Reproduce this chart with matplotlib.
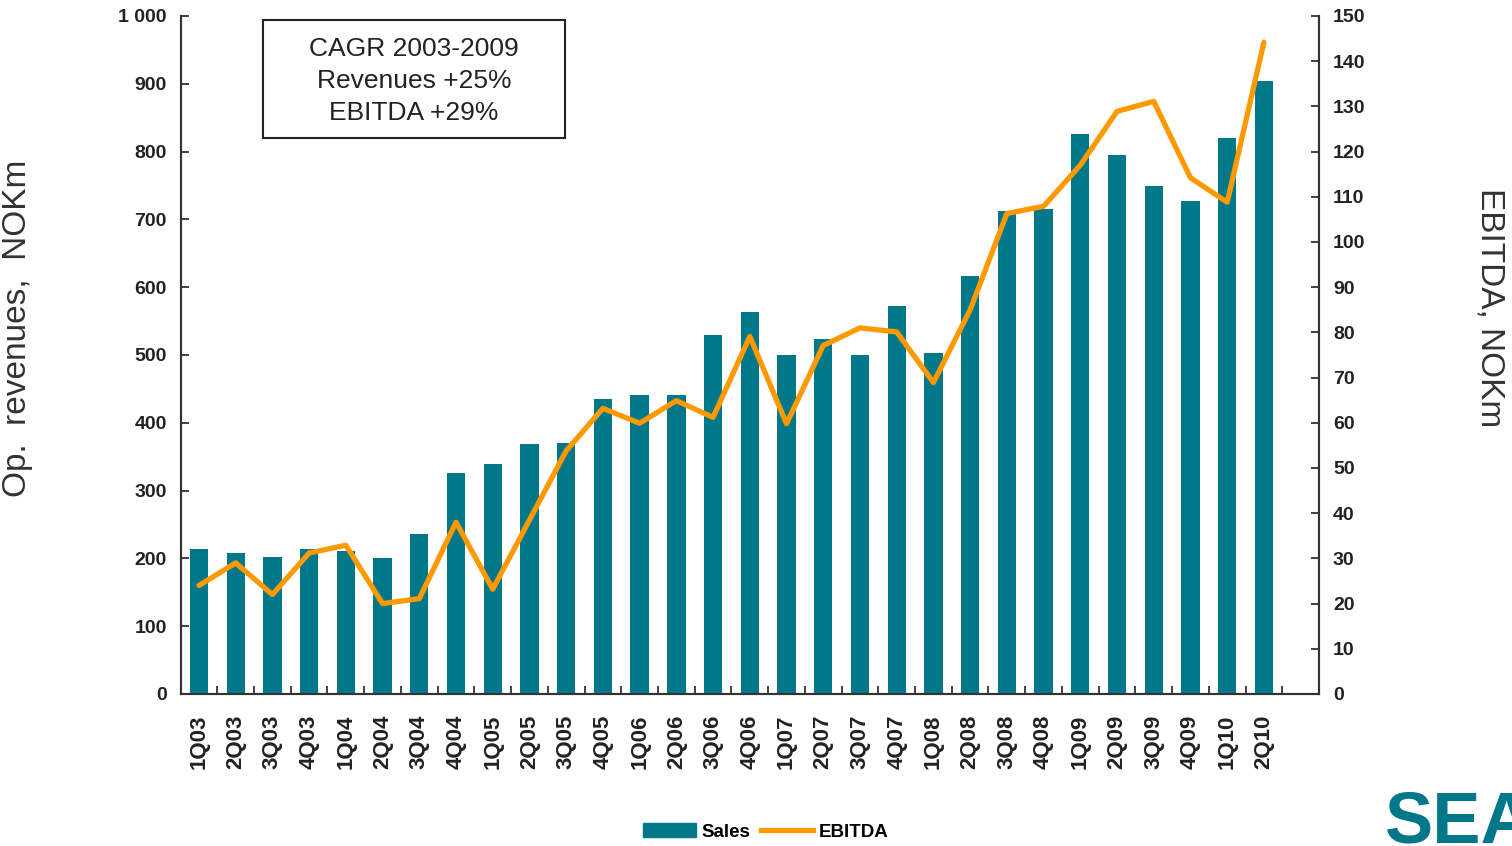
import matplotlib
matplotlib.use("Agg")
import matplotlib.pyplot as plt
from matplotlib.lines import Line2D
from matplotlib.patches import Patch, Rectangle
from matplotlib.ticker import FuncFormatter, MultipleLocator, FixedLocator

quarters = ["1Q03", "2Q03", "3Q03", "4Q03", "1Q04", "2Q04", "3Q04", "4Q04",
            "1Q05", "2Q05", "3Q05", "4Q05", "1Q06", "2Q06", "3Q06", "4Q06",
            "1Q07", "2Q07", "3Q07", "4Q07", "1Q08", "2Q08", "3Q08", "4Q08",
            "1Q09", "2Q09", "3Q09", "4Q09", "1Q10", "2Q10"]
sales = [214, 208, 202, 214, 211, 200, 236, 326,
         339, 369, 370, 435, 441, 441, 530, 564,
         500, 523, 500, 573, 503, 616, 712, 715,
         826, 795, 749, 727, 820, 904]
ebitda = [24.0, 29.0, 22.0, 31.2, 32.9, 20.0, 21.1, 38.0,
          23.2, 38.5, 53.8, 63.2, 59.9, 64.9, 61.2, 79.1,
          59.8, 77.1, 81.0, 80.1, 68.9, 85.0, 106.3, 107.9,
          117.0, 128.9, 131.1, 114.2, 108.8, 144.2]
box_lines = ["CAGR 2003-2009", "Revenues +25%", "EBITDA +29%"]

TEAL = "#00788A"
ORANGE = "#FF9900"
DARK = "#333333"
plt.rcParams["font.family"] = ["Liberation Sans", "DejaVu Sans"]

W, H = 1512, 846
fig = plt.figure(figsize=(W / 100, H / 100), dpi=100)
ax = fig.add_axes([180.6 / W, 1 - 694 / H, (1319 - 180.6) / W, (694 - 16) / H])
ax2 = ax.twinx()

x = list(range(len(quarters)))
ax.bar(x, sales, width=0.5, color=TEAL, zorder=2)
ax2.plot(x, ebitda, color=ORANGE, lw=3.8, solid_joinstyle="round", solid_capstyle="round", zorder=3)

ax.set_xlim(-0.5, len(quarters) + 0.5)
ax.set_ylim(0, 1000)
ax2.set_ylim(0, 150)

ax.yaxis.set_major_locator(MultipleLocator(100))
ax.yaxis.set_major_formatter(FuncFormatter(lambda v, p: f"{int(v):,}".replace(",", " ")))
ax2.yaxis.set_major_locator(MultipleLocator(10))

ax.set_xticks(x)
ax.set_xticklabels(quarters, rotation=90, fontsize=16, fontweight="bold", color="#222222")
ax.xaxis.set_minor_locator(FixedLocator([i + 0.5 for i in x]))
ax.tick_params(axis="x", which="major", length=0, pad=15)
ax.tick_params(axis="x", which="minor", direction="in", length=6, width=1.3, color=DARK)
ax.tick_params(axis="y", direction="in", length=6, width=1.3, color=DARK, pad=10,
               labelsize=14, labelcolor="#222222")
ax2.tick_params(axis="y", direction="in", length=6, width=1.3, color=DARK, pad=10,
                labelsize=14, labelcolor="#222222")
for lab in ax.get_yticklabels() + ax2.get_yticklabels():
    lab.set_fontweight("bold")

for a in (ax, ax2):
    a.spines["top"].set_visible(False)
    for s in ("left", "right", "bottom"):
        a.spines[s].set_color(DARK)
        a.spines[s].set_linewidth(1.5)

fig.text(18 / W, 1 - 328 / H, "Op.  revenues,  NOKm", rotation=90, ha="center", va="center",
         fontsize=24, color="#333333")
fig.text(1490 / W, 1 - 308 / H, "EBITDA, NOKm", rotation=270, ha="center", va="center",
         fontsize=24, color="#333333")

# annotation box
fig.add_artist(Rectangle((263 / W, 1 - 138 / H), (565 - 263) / W, (138 - 20) / H,
                         transform=fig.transFigure, fc="white", ec="#222222", lw=1.5, zorder=5))
for i, (line, ypx) in enumerate(zip(box_lines, [49, 81, 113])):
    fig.text(414 / W, 1 - ypx / H, line, ha="center", va="center", fontsize=19,
             color="#222222", zorder=6)

handles = [Patch(color=TEAL, label="Sales"), Line2D([0], [0], color=ORANGE, lw=3.8, label="EBITDA")]
fig.legend(handles=handles, loc="center", bbox_to_anchor=(766 / W, 1 - 832 / H), ncol=2,
           frameon=False, prop=dict(size=13.5, weight="bold"), handlelength=2.8,
           handletextpad=0.32, columnspacing=0.55)

fig.text(1385 / W, 1 - 842 / H, "SEAWELL", ha="left", va="baseline", fontsize=52,
         fontweight="bold", color=TEAL, family=["Liberation Sans Narrow", "Liberation Sans"])

fig.savefig("out.png", dpi=100)
